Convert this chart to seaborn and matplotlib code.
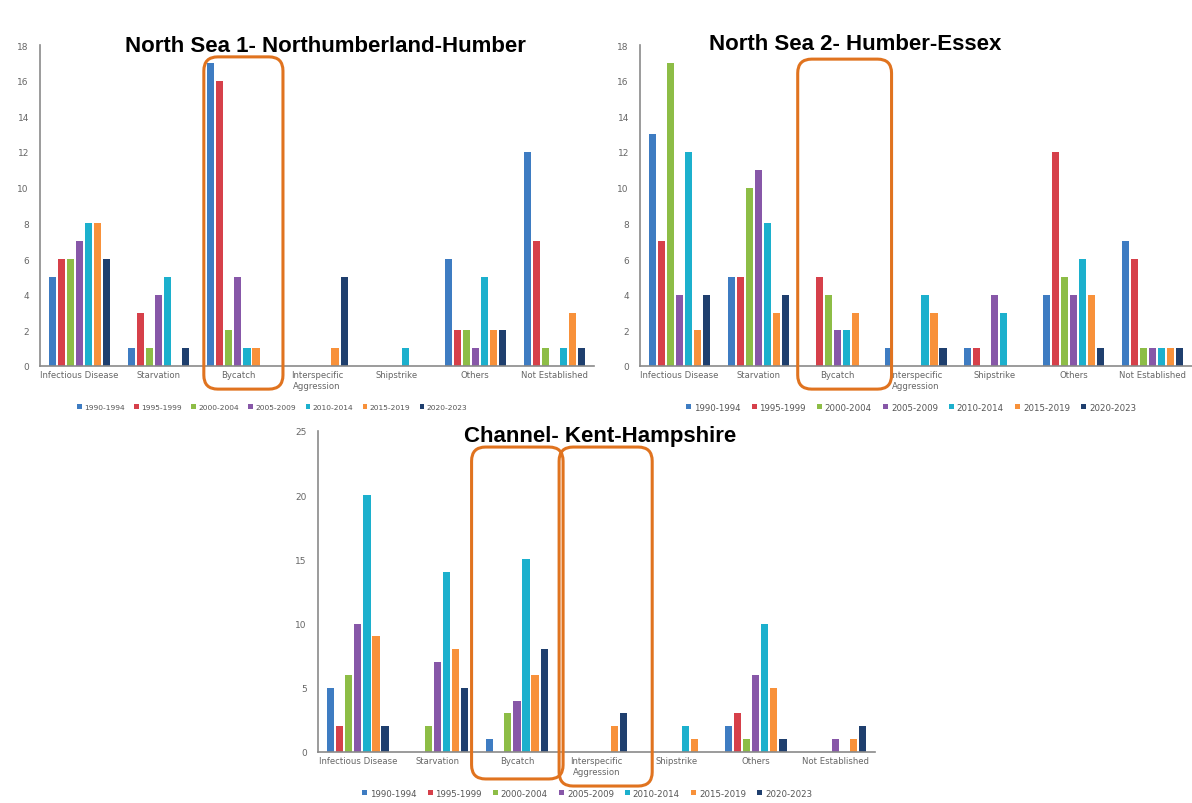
import matplotlib
matplotlib.use('Agg')
import matplotlib.pyplot as plt
from matplotlib.patches import FancyBboxPatch
from matplotlib.transforms import IdentityTransform
import pandas as pd
import seaborn as sns

causes = ["Infectious Disease", "Starvation", "Bycatch", "Interspecific\nAggression",
          "Shipstrike", "Others", "Not Established"]
periods = ["1990-1994", "1995-1999", "2000-2004", "2005-2009", "2010-2014", "2015-2019", "2020-2023"]
colores = ["#3e7cc2", "#d6404a", "#8dbd46", "#8757a8", "#1cb0cd", "#f8913a", "#1f3f6e"]

# valores por causa (filas) y periodo (columnas)
ns1 = [[5, 6, 6, 7, 8, 8, 6],
       [1, 3, 1, 4, 5, 0, 1],
       [17, 16, 2, 5, 1, 1, 0],
       [0, 0, 0, 0, 0, 1, 5],
       [0, 0, 0, 0, 1, 0, 0],
       [6, 2, 2, 1, 5, 2, 2],
       [12, 7, 1, 0, 1, 3, 1]]

ns2 = [[13, 7, 17, 4, 12, 2, 4],
       [5, 5, 10, 11, 8, 3, 4],
       [0, 5, 4, 2, 2, 3, 0],
       [1, 0, 0, 0, 4, 3, 1],
       [1, 1, 0, 4, 3, 0, 0],
       [4, 12, 5, 4, 6, 4, 1],
       [7, 6, 1, 1, 1, 1, 1]]

channel = [[5, 2, 6, 10, 20, 9, 2],
           [0, 0, 2, 7, 14, 8, 5],
           [1, 0, 3, 4, 15, 6, 8],
           [0, 0, 0, 0, 0, 2, 3],
           [0, 0, 0, 0, 2, 1, 0],
           [2, 3, 1, 6, 10, 5, 1],
           [0, 0, 0, 1, 0, 1, 2]]

W, H = 1192, 804
fig = plt.figure(figsize=(W / 100, H / 100), dpi=100)
fig.patch.set_facecolor("white")


def a_df(tabla):
    filas = []
    for c, vals in zip(causes, tabla):
        for p, v in zip(periods, vals):
            filas.append({"causa": c, "periodo": p, "n": v})
    return pd.DataFrame(filas)


def panel(rect, tabla, ymax, step, titulo, tit_xy, leg_x, leg_fs, cajas):
    ax = fig.add_axes(rect)
    sns.barplot(data=a_df(tabla), x="causa", y="n", hue="periodo", order=causes,
                hue_order=periods, palette=colores, saturation=1, width=0.8,
                gap=0.2, errorbar=None, ax=ax)
    ax.set_xlim(-0.5, len(causes) - 0.5)
    ax.set_ylim(0, ymax)
    ax.set_yticks(range(0, ymax + 1, step))
    ax.set_xlabel("")
    ax.set_ylabel("")
    ax.tick_params(axis="y", length=0, labelsize=6.5, labelcolor="#666666", pad=8)
    ax.tick_params(axis="x", length=0, labelsize=6.1, labelcolor="#666666", pad=3)
    for s in ["top", "right"]:
        ax.spines[s].set_visible(False)
    for s in ["left", "bottom"]:
        ax.spines[s].set_color("#8a8a8a")
        ax.spines[s].set_linewidth(1.2)
    ax.set_facecolor("none")

    leg = ax.legend(loc="center", bbox_to_anchor=(leg_x, -0.128), ncol=7, frameon=False,
                    fontsize=leg_fs, handlelength=0.6, handleheight=0.6, handletextpad=0.3,
                    columnspacing=1.3)
    for t in leg.get_texts():
        t.set_color("#555555")

    fig.text(tit_xy[0] / W, 1 - tit_xy[1] / H, titulo, ha="center", va="center",
             fontsize=16, fontweight="bold", family="Liberation Sans")

    # recuadros naranjas sobre las categorías destacadas
    for idx, dx0, dx1, y0, y1 in cajas:
        x0 = ax.transData.transform((idx + dx0, 0))[0]
        x1 = ax.transData.transform((idx + dx1, 0))[0]
        py0 = ax.transAxes.transform((0, y0))[1]
        py1 = ax.transAxes.transform((0, y1))[1]
        caja = FancyBboxPatch((x0, py0), x1 - x0, py1 - py0,
                              boxstyle="round,pad=0,rounding_size=14",
                              transform=IdentityTransform(), fill=False,
                              edgecolor="#e0731f", linewidth=2.2, zorder=10)
        fig.add_artist(caja)
    return ax


panel([40 / W, 1 - 367 / H, 554 / W, 321 / H], ns1, 18, 2,
      "North Sea 1- Northumberland-Humber", (325, 46), 0.419, 5.4,
      [(2, -0.43, 0.57, -0.072, 0.963)])

panel([640 / W, 1 - 367 / H, 552 / W, 321 / H], ns2, 18, 2,
      "North Sea 2- Humber-Essex", (855, 45), 0.491, 6.2,
      [(2, -0.5, 0.69, -0.072, 0.956)])

panel([318 / W, 1 - 753 / H, 557 / W, 321 / H], channel, 25, 5,
      "Channel- Kent-Hampshire", (600, 437), 0.483, 6.2,
      [(2, -0.57, 0.58, -0.084, 0.95), (3, -0.47, 0.7, -0.106, 0.95)])

fig.savefig("out.png", dpi=100)
plt.close(fig)
